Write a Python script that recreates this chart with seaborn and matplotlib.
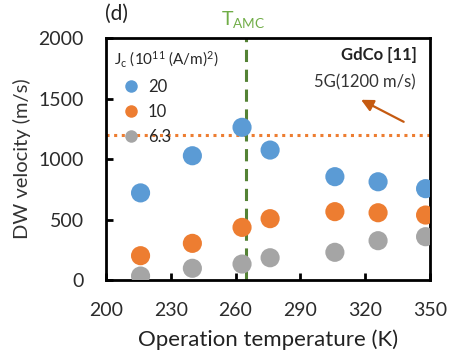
import matplotlib
matplotlib.use("Agg")
import matplotlib.pyplot as plt
import seaborn as sns
import pandas as pd

temps = [216, 240, 263, 276, 306, 326, 348]
v_20 = [720, 1027, 1262, 1074, 854, 812, 755]
v_10 = [201, 303, 435, 507, 565, 556, 537]
v_63 = [33, 97, 132, 184, 229, 325, 358]
labels = ["20", "10", "6.3"]
colors = ["#5B9BD5", "#ED7D31", "#A5A5A5"]
t_amc = 265
v_5g = 1200

sns.set_theme(style="ticks")
plt.rcParams['font.family'] = ['Lato', 'DejaVu Sans']
plt.rcParams['mathtext.fontset'] = 'custom'
plt.rcParams['mathtext.rm'] = 'Lato'
plt.rcParams['mathtext.it'] = 'Lato'

df = pd.DataFrame({
    "T": temps * 3,
    "v": v_20 + v_10 + v_63,
    "J": [labels[0]] * 7 + [labels[1]] * 7 + [labels[2]] * 7,
})

fig = plt.figure(figsize=(4.53, 3.52), dpi=100)
ax = fig.add_axes([0.234, 0.2045, 0.715, 0.6875])

ax.axhline(v_5g, color="#ED7D31", ls=(0, (1, 1.5)), lw=2.2, zorder=1, clip_on=False)
ax.axvline(t_amc, color="#548235", ls=(0, (4, 2.5)), lw=2.2, zorder=1)

sns.scatterplot(data=df, x="T", y="v", hue="J", palette=colors, s=190,
                edgecolor="none", ax=ax, zorder=3, legend=True)

ax.set_xlim(200, 350)
ax.set_ylim(0, 2000)
ax.set_xticks([200, 230, 260, 290, 320, 350])
ax.set_yticks([0, 500, 1000, 1500, 2000])
ax.tick_params(direction="in", length=5, width=2, labelsize=14, colors="black")
ax.tick_params(axis="x", pad=16)
ax.tick_params(axis="y", pad=16)
for lab in ax.get_xticklabels() + ax.get_yticklabels():
    lab.set_color("#2b2b2b")
for sp in ax.spines.values():
    sp.set_visible(True)
    sp.set_linewidth(2)
    sp.set_color("black")
ax.set_xlabel("Operation temperature (K)", fontsize=16, color="#222222", labelpad=7)
ax.set_ylabel("DW velocity (m/s)", fontsize=14.5, color="#333333", labelpad=5)

handles, _ = ax.get_legend_handles_labels()
for h in handles:
    h.set_markersize(9)
leg = ax.legend(handles, labels, title="J$_\\mathrm{c}$ (10$^{11}$ (A/m)$^2$)", loc="upper left",
                frameon=False, fontsize=12, title_fontsize=11,
                handletextpad=0.0, borderaxespad=0.3, labelspacing=0.55,
                bbox_to_anchor=(-0.01, 1.0))
leg._legend_box.align = "left"

ax.text(0.96, 0.93, "GdCo [11]", transform=ax.transAxes, ha="right", va="center",
        fontsize=12, fontweight="bold", color="#222222")
ax.text(0.955, 0.815, "5G(1200 m/s)", transform=ax.transAxes, ha="right", va="center",
        fontsize=12, color="#333333")
ax.annotate("", xy=(317, 1500), xytext=(339, 1297),
            arrowprops=dict(arrowstyle="-|>,head_length=0.6,head_width=0.3",
                            color="#C55A11", lw=1.6))

fig.text(105 / 453, 1 - 14 / 352, "(d)", fontsize=15, ha="left", va="center", color="#222222")
fig.text(243 / 453, 1 - 20 / 352, "T$_{\\mathrm{AMC}}$", fontsize=14, ha="center",
         va="center", color="#70AD47")

fig.savefig("out.png", dpi=100)
